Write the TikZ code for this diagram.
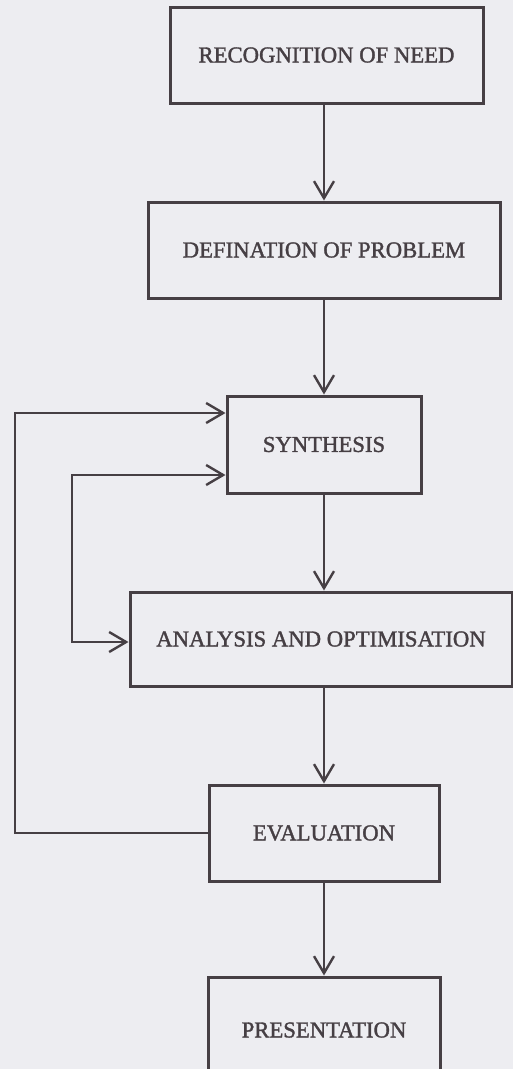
\documentclass[tikz,border=0pt]{standalone}
\usepackage{fontspec}
\setmainfont{Liberation Serif}
\newfontfamily\boxfont[FakeBold=1.5]{Liberation Serif}
\usetikzlibrary{arrows.meta}
\definecolor{bgc}{HTML}{EDEDF1}
\definecolor{ink}{HTML}{463F44}
\begin{document}
\begin{tikzpicture}[x=1pt,y=-1pt,
  box/.style={draw=ink,line width=3pt,text=ink,font=\boxfont\fontsize{22.7}{26}\selectfont,inner sep=0pt},
  link/.style={draw=ink,line width=2.8pt},
  tip/.style={-{Straight Barb[length=17pt,width=20pt,line width=2.4pt]}}]
\fill[bgc] (0,0) rectangle (513,1069);
\useasboundingbox (0,0) rectangle (513,1069);
\clip (0,0) rectangle (513,1069);
\node[box,minimum width=313pt,minimum height=96pt] (b1) at (326.5,55) {\raisebox{-3pt}{RECOGNITION OF NEED}};
\node[box,minimum width=352pt,minimum height=96pt] (b2) at (324,250) {DEFINATION OF PROBLEM};
\node[box,minimum width=194pt,minimum height=97pt] (syn) at (324,444.5) {SYNTHESIS};
\node[box,minimum width=382pt,minimum height=94pt] (ana) at (321,639) {ANALYSIS AND OPTIMISATION};
\node[box,minimum width=230pt,minimum height=96pt] (eva) at (324,833) {EVALUATION};
\node[box,minimum width=232pt,minimum height=106pt] (pre) at (324,1030) {PRESENTATION};
\coordinate (o1) at (15,833);
\coordinate (o2) at (15,413);
\coordinate (i1) at (72,475);
\coordinate (i2) at (72,642);
\draw[link,tip] (b2.north |- b1.south) -- (b2.north);
\draw[link,tip] (b2.south) -- (syn.north);
\draw[link,tip] (syn.south) -- (syn.south |- ana.north);
\draw[link,tip] (eva.north |- ana.south) -- (eva.north);
\draw[link,tip] (eva.south) -- (pre.north);
\draw[link,tip] (eva.west) -- (o1) -- (o2) -- (o2 -| syn.west);
\draw[link,tip] (i2) -- (i1) -- (i1 -| syn.west);
\draw[link,tip] (i1) -- (i2) -- (i2 -| ana.west);
\end{tikzpicture}
\end{document}
